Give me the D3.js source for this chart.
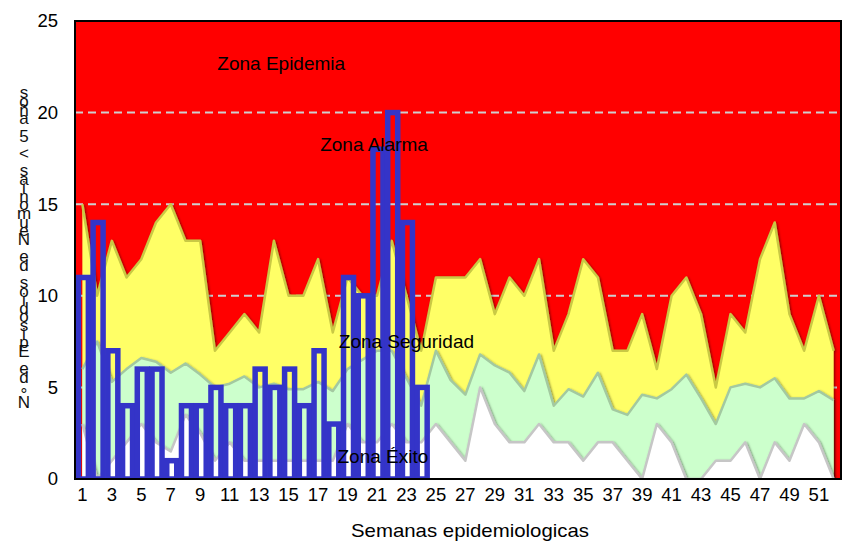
<!DOCTYPE html>
<html>
<head>
<meta charset="utf-8">
<script src="https://cdn.jsdelivr.net/npm/d3@7"></script>
<style>
  html, body { margin: 0; padding: 0; background: #ffffff; }
  svg text { font-family: "Liberation Sans", Arial, sans-serif; }
</style>
</head>
<body>
<svg id="chart" width="846" height="541"></svg>
<script>
// ---- data ----
const weeks = [1,2,3,4,5,6,7,8,9,10,11,12,13,14,15,16,17,18,19,20,21,22,23,24,25,26,
               27,28,29,30,31,32,33,34,35,36,37,38,39,40,41,42,43,44,45,46,47,48,49,50,51,52];
// upper limit (alarm / epidemic boundary)
const upper = [15,10,13,11,12,14,15,13,13,7, 8,9,8,13,10,10,12,8,11,10,
               10,13,10,7,11,11,11,12,9,11, 10,12,7,9,12,11,7,7,9,6,
               10,11,9,5,9,8,12,14,9,7,10,7];
// median (security zone top)
const middle = [6,7.5,5.3,6,6.6,6.4,5.8,6.3,5.7,5, 5.2,5.6,5,5.2,4.9,4.9,5.3,4.8,6,6.5,
                7,7,5.5,4,7,5.4,4.6,6.8,6.2,5.8, 4.8,6.8,4,4.9,4.5,5.8,3.8,3.5,4.6,4.4,
                4.9,5.7,4.4,3,5,5.2,5,5.5,4.4,4.4,4.8,4.3];
// lower limit (success zone top)
const lower = [3,0,1,2,3,2,1.5,3.5,2.5,1, 2,1,1,1,1,1,1,1,3,2,
               2,3,2,2,3,2,1,5,3,2, 2,3,2,2,1,2,2,1,0,3,
               2,0,0,1,1,2,0,2,1,3,2,0];
// current year cases (weeks 1..24)
const casesWeeks = [1,2,3,4,5,6,7,8,9,10,11,12,13,14,15,16,17,18,19,20,21,22,23,24];
const cases = [11,14,7,4,6,6,1,4,4,5,4,4,6,5,6,4,7,3,11,10,18,20,14,5];
const yTicks = [0,5,10,15,20,25];
const xTicks = [1,3,5,7,9,11,13,15,17,19,21,23,25,27,29,31,33,35,37,39,41,43,45,47,49,51];
const zoneLabels = [
  {text: "Zona Epidemia", week: 14.5, value: 22.6},
  {text: "Zona Alarma", week: 20.8, value: 18.2},
  {text: "Zona Seguridad", week: 23, value: 7.4},
  {text: "Zona Éxito", week: 21.4, value: 1.15}
];
const yTitle = "N° de Episodios de Neumonias < 5 años";
const xTitle = "Semanas epidemiologicas";

// ---- layout ----
const svg = d3.select("#chart");
const L = 75, R = 841, T = 21, B = 479;
const x = d3.scaleBand().domain(weeks).range([L, R]).padding(0);
const cx = w => x(w) + x.bandwidth() / 2;
const xc = d3.scaleLinear().domain([0.5, 52.5]).range([L, R]);
const y = d3.scaleLinear().domain([0, 25]).range([B, T]);

const defs = svg.append("defs");
const f = defs.append("filter").attr("id", "shadow").attr("x", "-10%").attr("y", "-10%").attr("width", "120%").attr("height", "120%");
f.append("feDropShadow").attr("dx", 1.2).attr("dy", 1.2).attr("stdDeviation", 1.3)
  .attr("flood-color", "#000").attr("flood-opacity", 0.5);
defs.append("clipPath").attr("id", "plotclip").append("rect")
  .attr("x", L).attr("y", T).attr("width", R - L).attr("height", B - T);

const plot = svg.append("g").attr("clip-path", "url(#plotclip)");

// red background
plot.append("rect").attr("x", L).attr("y", T).attr("width", R - L).attr("height", B - T).attr("fill", "#ff0000");

// gridlines
plot.append("g").selectAll("line").data(yTicks.filter(v => v > 0 && v < 25)).join("line")
  .attr("x1", L).attr("x2", R).attr("y1", d => y(d)).attr("y2", d => y(d))
  .attr("stroke", "#cfcfcf").attr("stroke-width", 2).attr("stroke-dasharray", "8,5");

function areaOf(vals) {
  return d3.area().x((d, i) => cx(weeks[i])).y0(y(0)).y1(d => y(d))(vals);
}
function lineOf(vals) {
  return d3.line().x((d, i) => cx(weeks[i])).y(d => y(d))(vals);
}
const zones = [
  {vals: upper, fill: "#ffff66", stroke: "#c9c944"},
  {vals: middle, fill: "#ccffcc", stroke: "#a3c9a0"},
  {vals: lower, fill: "#ffffff", stroke: "#c6c6c6"}
];
zones.forEach(z => {
  const g = plot.append("g").attr("filter", "url(#shadow)");
  g.append("path").attr("d", areaOf(z.vals)).attr("fill", z.fill);
  g.append("path").attr("d", lineOf(z.vals)).attr("fill", "none")
    .attr("stroke", z.stroke).attr("stroke-width", 2.5).attr("stroke-linejoin", "round");
});

// bars
const bw = 10;
plot.append("g").selectAll("rect").data(cases).join("rect")
  .attr("x", (d, i) => cx(casesWeeks[i]) - bw / 2 + 1)
  .attr("width", bw)
  .attr("y", d => y(d))
  .attr("height", d => y(0) - y(d))
  .attr("fill", "none")
  .attr("stroke", "#3434c8")
  .attr("stroke-width", 5.5);

// frame
svg.append("rect").attr("x", L).attr("y", T).attr("width", R - L).attr("height", B - T)
  .attr("fill", "none").attr("stroke", "#000").attr("stroke-width", 2);

// y axis
const yAxis = svg.append("g").attr("transform", `translate(${L},0)`)
  .call(d3.axisLeft(y).tickValues(yTicks).tickSize(0).tickPadding(17));
yAxis.select(".domain").remove();
yAxis.selectAll("text").attr("font-size", 18.5).attr("fill", "#000")
  .style("font-family", "'Liberation Sans', Arial, sans-serif");

// x axis
const xAxis = svg.append("g").attr("transform", `translate(0,${B})`)
  .call(d3.axisBottom(x).tickValues(xTicks).tickSize(0).tickPadding(9));
xAxis.select(".domain").remove();
xAxis.selectAll("text").attr("font-size", 18.5).attr("fill", "#000")
  .style("font-family", "'Liberation Sans', Arial, sans-serif");

// zone labels
svg.append("g").selectAll("text").data(zoneLabels).join("text")
  .attr("x", d => xc(d.week)).attr("y", d => y(d.value))
  .attr("text-anchor", "middle").attr("dominant-baseline", "middle")
  .attr("font-size", 19).attr("fill", "#000").text(d => d.text);

// x title
svg.append("text").attr("x", 470).attr("y", 537).attr("text-anchor", "middle")
  .attr("font-size", 19).attr("textLength", 238).attr("lengthAdjust", "spacingAndGlyphs")
  .attr("fill", "#000").text(xTitle);

// y title: upright characters stacked bottom to top
const chars = Array.from(yTitle);
const yBottom = 404, yTop = 94;
const step = (yBottom - yTop) / (chars.length - 1);
svg.append("g").selectAll("text").data(chars).join("text")
  .attr("x", 24).attr("y", (d, i) => yBottom - i * step)
  .attr("text-anchor", "middle").attr("dominant-baseline", "middle")
  .attr("font-size", 17).attr("fill", "#111").text(d => d);
</script>
</body>
</html>
